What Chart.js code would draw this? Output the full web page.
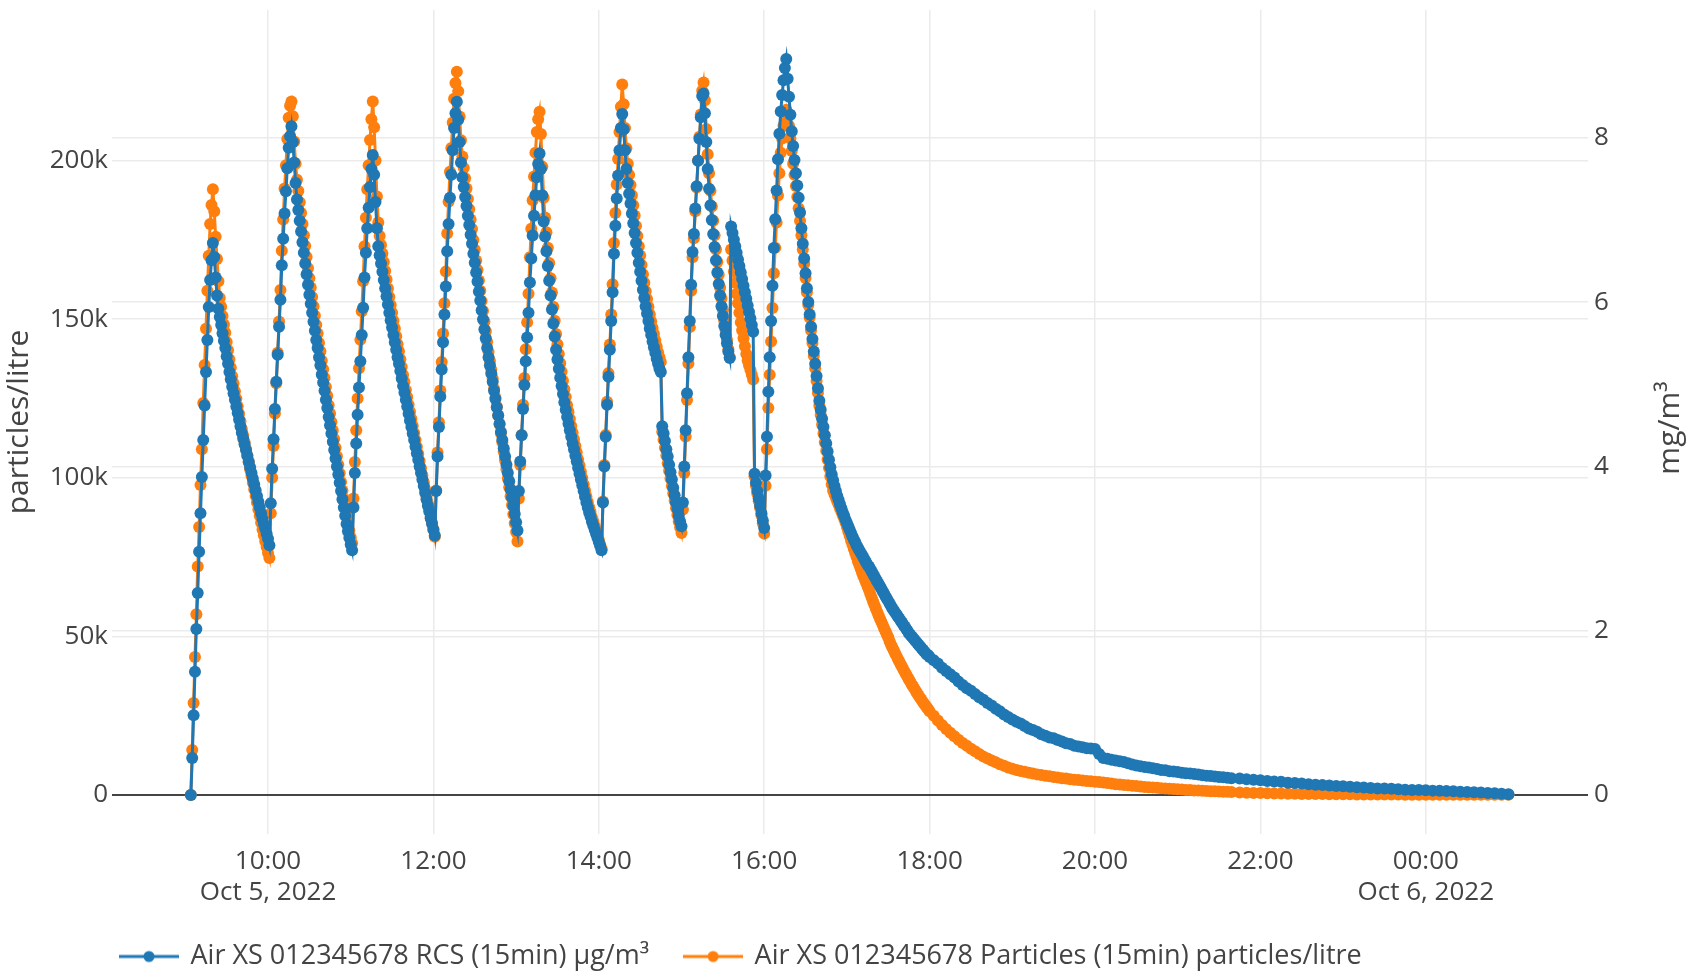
<!DOCTYPE html>
<html>
<head>
<meta charset="utf-8">
<script src="https://cdn.jsdelivr.net/npm/chart.js@4.4.1/dist/chart.umd.min.js"></script>
<style>
  html, body { margin: 0; padding: 0; background: #fff; }
</style>
</head>
<body>
<canvas id="myChart" width="1692" height="977"></canvas>
<script>
// sample times, minutes after 00:00 on Oct 5 2022; one chunk per cycle, then the tail
const chunkStarts = [544, 601, 661, 721, 781, 842, 900, 960, 1011, 1083, 1305];
const chunkSteps = [1, 1, 1, 1, 1, 1, 1, 1, 1, 3, 5];

// RCS, mg/m³ (right axis)
const rcsCycle1 = [0, 0.45, 0.97, 1.50, 2.02, 2.46, 2.96, 3.43, 3.87, 4.32, 4.74, 5.15, 5.54, 5.94, 6.27, 6.51, 6.72, 6.55, 6.30, 6.08, 5.92, 5.82, 5.72, 5.62, 5.53, 5.44, 5.34, 5.25, 5.15, 5.06, 4.97, 4.89, 4.81, 4.73, 4.65, 4.57, 4.49, 4.41, 4.34, 4.27, 4.20, 4.13, 4.06, 3.99, 3.92, 3.85, 3.78, 3.71, 3.64, 3.57, 3.50, 3.43, 3.36, 3.30, 3.24, 3.18, 3.12];
const rcsCycle2 = [3.04, 3.55, 3.97, 4.33, 4.70, 5.03, 5.36, 5.70, 6.03, 6.45, 6.77, 7.08, 7.35, 7.63, 7.88, 8.02, 8.14, 7.95, 7.70, 7.45, 7.25, 7.12, 6.99, 6.86, 6.73, 6.60, 6.47, 6.34, 6.21, 6.09, 5.98, 5.87, 5.76, 5.65, 5.54, 5.44, 5.33, 5.23, 5.12, 5.02, 4.92, 4.81, 4.71, 4.60, 4.50, 4.40, 4.30, 4.20, 4.10, 4.00, 3.90, 3.80, 3.70, 3.60, 3.50, 3.40, 3.30, 3.21, 3.13, 3.05];
const rcsCycle3 = [2.98, 3.50, 3.92, 4.28, 4.63, 4.96, 5.28, 5.60, 5.93, 6.30, 6.60, 6.90, 7.15, 7.40, 7.62, 7.79, 7.55, 7.22, 6.90, 6.68, 6.57, 6.47, 6.37, 6.27, 6.17, 6.07, 5.97, 5.87, 5.78, 5.69, 5.60, 5.51, 5.42, 5.33, 5.25, 5.16, 5.07, 4.98, 4.90, 4.81, 4.73, 4.64, 4.56, 4.48, 4.40, 4.32, 4.24, 4.16, 4.08, 4.00, 3.92, 3.84, 3.76, 3.68, 3.60, 3.52, 3.45, 3.37, 3.30, 3.23];
const rcsCycle4 = [3.16, 3.70, 4.12, 4.48, 4.85, 5.18, 5.51, 5.85, 6.19, 6.62, 6.95, 7.27, 7.55, 7.85, 8.12, 8.30, 8.44, 8.22, 7.95, 7.70, 7.52, 7.40, 7.28, 7.17, 7.05, 6.94, 6.82, 6.71, 6.59, 6.48, 6.36, 6.25, 6.13, 6.02, 5.90, 5.79, 5.67, 5.56, 5.44, 5.33, 5.23, 5.13, 5.03, 4.92, 4.82, 4.72, 4.62, 4.52, 4.42, 4.32, 4.22, 4.12, 4.02, 3.92, 3.82, 3.72, 3.62, 3.52, 3.42, 3.32];
const rcsCycle5 = [3.22, 3.70, 4.06, 4.38, 4.70, 4.99, 5.28, 5.57, 5.87, 6.24, 6.53, 6.81, 7.05, 7.30, 7.52, 7.68, 7.81, 7.62, 7.30, 6.98, 6.80, 6.62, 6.44, 6.26, 6.08, 5.91, 5.74, 5.58, 5.42, 5.30, 5.19, 5.08, 4.98, 4.88, 4.78, 4.69, 4.60, 4.52, 4.44, 4.36, 4.28, 4.21, 4.13, 4.06, 3.98, 3.91, 3.84, 3.77, 3.70, 3.63, 3.56, 3.50, 3.44, 3.39, 3.33, 3.28, 3.23, 3.18, 3.13, 3.08, 3.03];
const rcsCycle6 = [2.98, 3.56, 4.00, 4.36, 4.75, 5.09, 5.42, 5.77, 6.12, 6.59, 6.93, 7.26, 7.54, 7.85, 8.12, 8.29, 8.10, 7.85, 7.62, 7.45, 7.32, 7.20, 7.08, 6.96, 6.84, 6.72, 6.60, 6.48, 6.37, 6.26, 6.15, 6.05, 5.95, 5.86, 5.77, 5.68, 5.60, 5.52, 5.45, 5.38, 5.31, 5.25, 5.19, 5.15, 4.49, 4.40, 4.31, 4.21, 4.12, 4.02, 3.93, 3.84, 3.74, 3.65, 3.56, 3.48, 3.40, 3.33];
const rcsCycle7 = [3.27, 3.56, 4.00, 4.44, 4.89, 5.33, 5.77, 6.21, 6.61, 6.83, 7.14, 7.41, 7.72, 7.99, 8.25, 8.51, 8.54, 8.30, 7.95, 7.62, 7.38, 7.18, 7.00, 6.83, 6.67, 6.51, 6.36, 6.22, 6.08, 5.95, 5.83, 5.71, 5.60, 5.50, 5.40, 5.32, 6.92, 6.84, 6.76, 6.68, 6.60, 6.52, 6.44, 6.36, 6.28, 6.20, 6.12, 6.04, 5.96, 5.88, 5.80, 5.72, 5.64, 3.91, 3.80, 3.70, 3.61, 3.52, 3.43, 3.34];
const rcsCycle8 = [3.25, 3.89, 4.36, 4.91, 5.33, 5.77, 6.20, 6.66, 7.01, 7.36, 7.74, 8.05, 8.32, 8.52, 8.70, 8.85, 8.96, 8.72, 8.50, 8.28, 8.08, 7.90, 7.73, 7.57, 7.42, 7.27, 7.09, 6.90, 6.71, 6.53, 6.35, 6.17, 6.00, 5.85, 5.70, 5.55, 5.40, 5.25, 5.10, 4.95, 4.80, 4.69, 4.58, 4.48, 4.38, 4.28, 4.18, 4.08, 3.99, 3.90, 3.83];
const rcsTail1 = [3.76, 3.70, 3.64, 3.59, 3.54, 3.49, 3.44, 3.40, 3.35, 3.31, 3.27, 3.23, 3.19, 3.15, 3.11, 3.08, 3.04, 3.01, 2.98, 2.95, 2.92, 2.89, 2.86, 2.83, 2.80, 2.78, 2.75, 2.72, 2.69, 2.66, 2.63, 2.60, 2.57, 2.54, 2.51, 2.48, 2.45, 2.42, 2.39, 2.36, 2.33, 2.30, 2.27, 2.25, 2.22, 2.20, 2.17, 2.15, 2.12, 2.10, 2.07, 2.05, 2.02, 2.00, 1.97, 1.95, 1.93, 1.91, 1.89, 1.87, 1.85, 1.83, 1.81, 1.79, 1.77, 1.75, 1.73, 1.71, 1.70, 1.68];
const rcsTail3 = [1.64, 1.60, 1.55, 1.51, 1.47, 1.43, 1.38, 1.34, 1.30, 1.27, 1.23, 1.19, 1.16, 1.12, 1.09, 1.05, 1.02, 0.98, 0.95, 0.92, 0.89, 0.87, 0.84, 0.81, 0.79, 0.77, 0.74, 0.72, 0.70, 0.69, 0.67, 0.65, 0.63, 0.62, 0.60, 0.59, 0.58, 0.57, 0.565, 0.56, 0.50, 0.45, 0.44, 0.43, 0.42, 0.41, 0.40, 0.385, 0.37, 0.36, 0.35, 0.34, 0.335, 0.325, 0.315, 0.305, 0.30, 0.29, 0.285, 0.28, 0.27, 0.265, 0.26, 0.255, 0.25, 0.24, 0.235, 0.23, 0.225, 0.22, 0.215, 0.21, 0.205];
const rcsTail5 = [0.20, 0.19, 0.185, 0.18, 0.17, 0.165, 0.16, 0.15, 0.145, 0.14, 0.13, 0.125, 0.12, 0.115, 0.11, 0.105, 0.10, 0.095, 0.09, 0.085, 0.08, 0.078, 0.075, 0.07, 0.065, 0.062, 0.06, 0.057, 0.053, 0.05, 0.047, 0.044, 0.04, 0.037, 0.034, 0.03, 0.025, 0.02, 0.015, 0.01];

// Particles, particles/litre (left axis)
const partCycle1 = [0, 14200, 29000, 43500, 57000, 72000, 84500, 97700, 109000, 123600, 135600, 147000, 159000, 170000, 180000, 186000, 191000, 184000, 176000, 169000, 162000, 156700, 153900, 151000, 148300, 145700, 142800, 140200, 137300, 134700, 132000, 129700, 127300, 124900, 122500, 120200, 117800, 115400, 113300, 111200, 109100, 107000, 104900, 102700, 100600, 98500, 96400, 94300, 92200, 90100, 88000, 85800, 83700, 81900, 80000, 78200, 76300];
const partCycle2 = [74700, 88800, 100000, 110000, 120300, 129800, 139400, 149300, 159200, 171600, 181400, 191200, 198500, 206800, 213500, 217300, 218600, 214000, 206000, 199000, 194000, 190400, 186900, 183500, 180000, 176500, 173100, 169600, 166100, 162900, 160000, 157000, 154100, 151100, 148200, 145500, 142500, 139900, 136900, 134200, 131500, 128600, 125900, 122900, 120300, 117600, 114900, 112200, 109500, 106800, 104100, 101400, 98700, 96000, 93400, 90700, 88000, 85500, 83400, 81200];
const partCycle3 = [79400, 93500, 105000, 115000, 125000, 134500, 143500, 152500, 162000, 173000, 182000, 191000, 198500, 206500, 213000, 218600, 210500, 200000, 188700, 180500, 176200, 173400, 170700, 168000, 165200, 162500, 159700, 157000, 154500, 152000, 149500, 147100, 144600, 142100, 139900, 137400, 134900, 132400, 130200, 127700, 125500, 123000, 120800, 118600, 116400, 114100, 111900, 109700, 107500, 105300, 103000, 100800, 98600, 96400, 94100, 91900, 90000, 87700, 85800, 83800];
const partCycle4 = [81400, 96000, 108000, 117500, 127500, 136500, 145500, 155000, 165000, 177000, 187000, 196500, 204000, 212000, 219500, 224500, 228000, 221900, 213900, 206400, 201300, 197700, 194400, 191200, 187900, 184700, 181400, 178400, 175000, 171900, 168500, 165500, 162200, 159000, 155700, 152600, 149300, 146200, 142800, 139700, 136900, 134100, 131300, 128100, 125300, 122400, 119700, 116800, 114000, 111200, 108300, 105500, 102700, 99800, 97000, 94200, 91400, 88500, 85700, 82900];
const partCycle5 = [79900, 93500, 104000, 113500, 123000, 131500, 140500, 149000, 158000, 169500, 178500, 187500, 195000, 202500, 209000, 213000, 215400, 208400, 198100, 188300, 182100, 177400, 172500, 167700, 162900, 158400, 153900, 149500, 145300, 142100, 139000, 136100, 133400, 130600, 127900, 125500, 122900, 120800, 118500, 116300, 114200, 112100, 110000, 108000, 105800, 103900, 101900, 99900, 98000, 96000, 94100, 92400, 90700, 89300, 87500, 86200, 84800, 83300, 81900, 80500, 79000];
const partCycle6 = [77600, 92500, 104000, 113500, 124000, 133000, 142000, 151500, 161000, 174000, 183500, 192500, 200500, 209000, 217000, 224000, 217800, 210300, 203900, 199000, 195500, 192300, 189100, 185900, 182700, 179400, 176200, 173000, 170100, 167100, 164200, 161500, 158800, 156400, 153900, 151500, 149300, 147200, 145300, 143300, 141400, 139600, 138000, 136500, 114500, 112000, 109500, 107000, 104600, 102200, 99800, 97400, 95100, 92800, 90500, 88300, 86200, 84300];
const partCycle7 = [82600, 90000, 101500, 113000, 124500, 136000, 147500, 159000, 169500, 175500, 184000, 191500, 200000, 207500, 214500, 222000, 224600, 219000, 210000, 202000, 196000, 190500, 185500, 181000, 176500, 172000, 168000, 164000, 160000, 156500, 153000, 149500, 146500, 143500, 140500, 138000, 172000, 168500, 165000, 161500, 158000, 155000, 152000, 149000, 146500, 144000, 141500, 139000, 137000, 135500, 134000, 132500, 131000, 100500, 97500, 95000, 92700, 90500, 88200, 85700];
const partCycle8 = [82400, 97500, 109000, 122000, 132500, 143000, 153500, 164500, 172500, 180500, 189000, 196000, 202500, 207000, 211000, 214000, 216000, 214000, 211000, 207000, 203000, 199000, 195500, 192000, 188500, 185000, 181000, 176500, 172000, 167500, 163000, 158500, 154500, 150500, 146500, 142500, 138500, 134500, 130500, 126700, 122800, 119800, 116800, 114000, 111200, 108500, 105800, 103100, 100500, 98000, 96000];
const partTail1 = [94800, 93700, 92600, 91500, 90400, 89300, 88200, 87200, 85900, 84500, 83100, 81700, 80300, 79000, 77600, 76300, 75000, 73700, 72500, 71300, 70100, 69000, 67900, 66800, 65700, 64600, 63400, 62200, 61000, 59900, 58800, 57700, 56600, 55600, 54600, 53600, 52600, 51600, 50600, 49700, 48500, 47400, 46500, 45600, 44700, 43800, 42900, 42100, 41200, 40400, 39600, 38800, 38000, 37200, 36400, 35700, 34900, 34200, 33500, 32800, 32100, 31400, 30700, 30100, 29400, 28800, 28200, 27600, 27000, 26400];
const partTail3 = [25000, 23500, 22100, 20800, 19600, 18500, 17400, 16400, 15500, 14600, 13800, 12900, 12100, 11500, 10900, 10300, 9700, 9200, 8700, 8300, 7900, 7600, 7300, 7000, 6800, 6500, 6300, 6100, 5900, 5700, 5500, 5300, 5200, 5000, 4800, 4700, 4600, 4450, 4300, 4200, 4100, 3950, 3750, 3600, 3400, 3300, 3150, 3050, 2900, 2800, 2700, 2550, 2450, 2350, 2250, 2150, 2050, 2000, 1900, 1800, 1700, 1600, 1550, 1450, 1400, 1350, 1250, 1200, 1150, 1100, 1050, 1000, 950];
const partTail5 = [800, 700, 650, 600, 550, 500, 450, 420, 380, 350, 320, 300, 280, 250, 230, 210, 200, 180, 170, 160, 150, 140, 130, 120, 110, 100, 100, 90, 90, 80, 80, 70, 70, 60, 60, 50, 50, 50, 50, 50];

// axes
const timeTicks = [600, 720, 840, 960, 1080, 1200, 1320, 1440];
const timeTickLabels = [['10:00', 'Oct 5, 2022'], '12:00', '14:00', '16:00', '18:00', '20:00', '22:00', ['00:00', 'Oct 6, 2022']];
const particleTicks = [0, 50000, 100000, 150000, 200000];
const particleTickLabels = ['0', '50k', '100k', '150k', '200k'];
const massTicks = [0, 2, 4, 6, 8];

const BLUE = '#1f77b4';
const ORANGE = '#ff7f0e';
const FONT = "'Open Sans', sans-serif";

function toPoints(chunks) {
  const pts = [];
  chunks.forEach((vals, c) => {
    vals.forEach((v, i) => pts.push({x: chunkStarts[c] + i * chunkSteps[c], y: v}));
  });
  return pts;
}

const rcsPoints = toPoints([rcsCycle1, rcsCycle2, rcsCycle3, rcsCycle4, rcsCycle5, rcsCycle6, rcsCycle7, rcsCycle8, rcsTail1, rcsTail3, rcsTail5]);
const particlePoints = toPoints([partCycle1, partCycle2, partCycle3, partCycle4, partCycle5, partCycle6, partCycle7, partCycle8, partTail1, partTail3, partTail5]);

// line + dot swatch like plotly's legend
function swatch(color) {
  const c = document.createElement('canvas');
  c.width = 60;
  c.height = 14;
  const g = c.getContext('2d');
  g.strokeStyle = color;
  g.lineWidth = 3;
  g.beginPath();
  g.moveTo(0, 7);
  g.lineTo(60, 7);
  g.stroke();
  g.fillStyle = color;
  g.beginPath();
  g.arc(30, 7, 5.5, 0, Math.PI * 2);
  g.fill();
  return c;
}
const swatches = [swatch(BLUE), swatch(ORANGE)];

const extras = {
  id: 'extras',
  afterLayout(chart) {
    chart.legend.left = 85;
    chart.legend.top += 3;
  },
  afterDraw(chart) {
    const g = chart.ctx;
    g.save();
    g.translate(1670, 428);
    g.rotate(-Math.PI / 2);
    g.font = '30px ' + FONT;
    g.fillStyle = '#444';
    g.textAlign = 'center';
    g.textBaseline = 'middle';
    g.fillText('mg/m³', 0, 0);
    g.restore();
  }
};

Chart.defaults.font.family = FONT;
Chart.defaults.color = '#444';

const gridColor = c => (c.tick && c.tick.value === 0) ? '#444' : '#ebebeb';
const gridWidth = c => (c.tick && c.tick.value === 0) ? 2 : 1.5;
const fixWidth = w => s => { s.width = w; s.paddingTop = 0; s.paddingBottom = 0; };

const ctx = document.getElementById('myChart');
new Chart(ctx, {
  type: 'line',
  data: {
    datasets: [{
      label: 'Air XS 012345678 RCS (15min) μg/m³',
      data: rcsPoints,
      yAxisID: 'yMass',
      borderColor: BLUE,
      backgroundColor: BLUE,
      pointBackgroundColor: BLUE,
      pointBorderWidth: 0,
      pointRadius: 6,
      borderWidth: 3,
      tension: 0,
      order: 0
    }, {
      label: 'Air XS 012345678 Particles (15min) particles/litre',
      data: particlePoints,
      yAxisID: 'yCount',
      borderColor: ORANGE,
      backgroundColor: ORANGE,
      pointBackgroundColor: ORANGE,
      pointBorderWidth: 0,
      pointRadius: 6,
      borderWidth: 3,
      tension: 0,
      order: 1
    }]
  },
  options: {
    responsive: false,
    animation: false,
    events: [],
    layout: { padding: { top: 10 } },
    scales: {
      x: {
        type: 'linear',
        min: 486.8,
        max: 1557.7,
        afterBuildTicks: s => { s.ticks = timeTicks.map(v => ({value: v})); },
        afterFit: s => { s.height = 70; s.paddingLeft = 0; s.paddingRight = 0; },
        ticks: {
          autoSkip: false,
          maxRotation: 0,
          padding: 12,
          font: { size: 26 },
          callback: v => timeTickLabels[timeTicks.indexOf(v)]
        },
        grid: { color: '#ebebeb', lineWidth: 1.5, drawTicks: false },
        border: { display: false }
      },
      yCount: {
        type: 'linear',
        position: 'left',
        min: -12295,
        max: 247477,
        afterBuildTicks: s => { s.ticks = particleTicks.map(v => ({value: v})); },
        afterFit: fixWidth(112),
        ticks: {
          padding: 4,
          font: { size: 26 },
          callback: v => particleTickLabels[particleTicks.indexOf(v)]
        },
        title: {
          display: true,
          text: 'particles/litre',
          font: { size: 30 },
          padding: { top: 1, bottom: 0 }
        },
        grid: { color: gridColor, lineWidth: gridWidth, drawTicks: false },
        border: { display: false }
      },
      yMass: {
        type: 'linear',
        position: 'right',
        min: -0.475,
        max: 9.556,
        afterBuildTicks: s => { s.ticks = massTicks.map(v => ({value: v})); },
        afterFit: fixWidth(104),
        ticks: {
          padding: 6,
          font: { size: 26 },
          callback: v => String(v)
        },
        grid: { color: gridColor, lineWidth: gridWidth, drawTicks: false },
        border: { display: false }
      }
    },
    plugins: {
      tooltip: { enabled: false },
      legend: {
        position: 'bottom',
        align: 'start',
        labels: {
          usePointStyle: true,
          pointStyleWidth: 56,
          padding: 36,
          color: '#444',
          font: { size: 27 },
          generateLabels(chart) {
            const items = Chart.defaults.plugins.legend.labels.generateLabels(chart);
            items.forEach(it => { it.pointStyle = swatches[it.datasetIndex]; });
            return items;
          }
        }
      }
    }
  },
  plugins: [extras]
});
</script>
</body>
</html>
